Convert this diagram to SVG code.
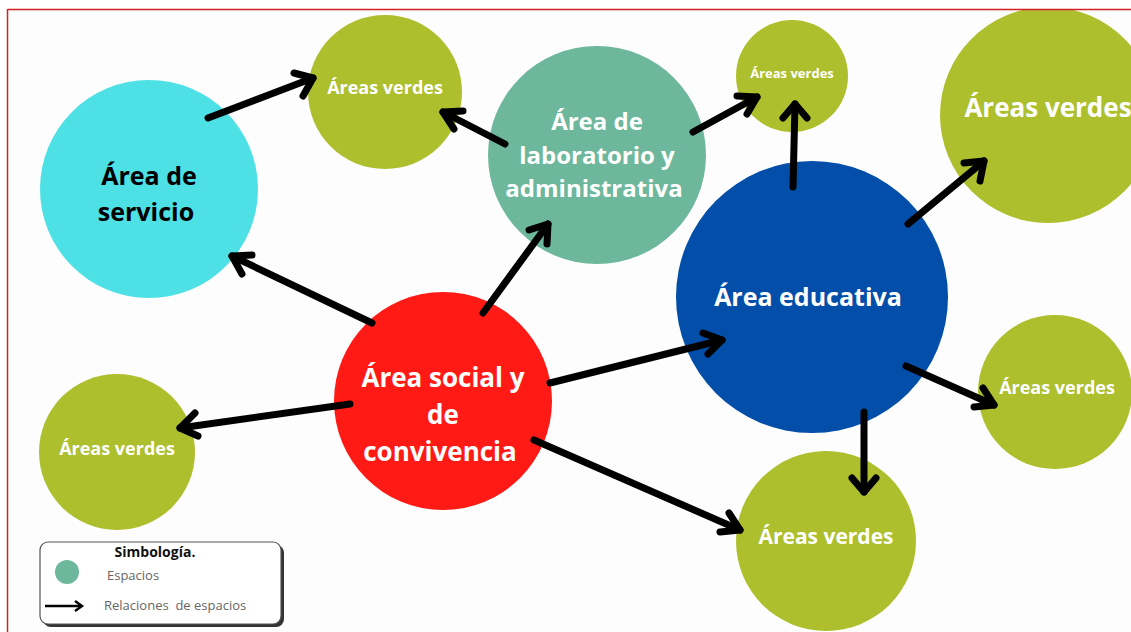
<svg xmlns="http://www.w3.org/2000/svg" width="1131" height="632" viewBox="0 0 1131 632">
<defs>
<style>
.g{fill:#adbf2c}
.t{font-family:"Open Sans","Liberation Sans",sans-serif;font-weight:bold;text-anchor:middle;fill:#fff}
.c line{stroke:#000;stroke-width:7;stroke-linecap:round}
.c polyline{fill:none;stroke:#000;stroke-width:7;stroke-linecap:round;stroke-linejoin:round}
.lg{font-family:"Open Sans","Liberation Sans",sans-serif;font-size:13px;fill:#666}
</style>
<clipPath id="cp"><rect x="8" y="10" width="1123" height="622"/></clipPath>
</defs>
<rect width="1131" height="632" fill="#fff"/>
<rect x="8" y="10" width="1123" height="622" fill="#fdfdfd"/>
<g clip-path="url(#cp)">
<g id="n-servicio"><circle cx="149" cy="189" r="109" fill="#4de1e5"/><text class="t" style="fill:#000" font-size="25"><tspan x="149" y="185">Área de</tspan><tspan x="146" y="221">servicio</tspan></text></g>
<g id="n-verdes1"><circle class="g" cx="385" cy="92" r="77"/><text class="t" x="385" y="94" font-size="18">Áreas verdes</text></g>
<g id="n-lab"><circle cx="597" cy="155" r="109" fill="#6db79c"/><text class="t" font-size="24"><tspan x="597" y="130">Área de</tspan><tspan x="597" y="164">laboratorio y</tspan><tspan x="594" y="197">administrativa</tspan></text></g>
<g id="n-verdes2"><circle class="g" cx="792" cy="76" r="56"/><text class="t" x="792" y="78" font-size="13">Áreas verdes</text></g>
<g id="n-verdes3"><circle class="g" cx="1048" cy="115" r="108"/><text class="t" x="1048" y="117" font-size="26">Áreas verdes</text></g>
<g id="n-educativa"><circle cx="812" cy="297" r="136" fill="#034ea8"/><text class="t" x="808" y="306" font-size="25">Área educativa</text></g>
<g id="n-verdes4"><circle class="g" cx="1055" cy="392" r="77"/><text class="t" x="1057" y="394" font-size="18">Áreas verdes</text></g>
<g id="n-social"><circle cx="443" cy="401" r="109" fill="#ff1a16"/><text class="t" font-size="26"><tspan x="443" y="387">Área social y</tspan><tspan x="443" y="424">de</tspan><tspan x="440" y="461">convivencia</tspan></text></g>
<g id="n-verdes5"><circle class="g" cx="117" cy="452" r="78"/><text class="t" x="117" y="455" font-size="18">Áreas verdes</text></g>
<g id="n-verdes6"><circle class="g" cx="826" cy="541" r="90"/><text class="t" x="826" y="544" font-size="21">Áreas verdes</text></g>
</g>
<g id="connectors" class="c">
<line x1="208" y1="118" x2="313" y2="78"/><polyline points="294,73 313,78 303,96"/>
<line x1="505" y1="144" x2="443" y2="112"/><polyline points="454,129 443,112 463,111"/>
<line x1="693" y1="132" x2="757" y2="97"/><polyline points="737,96 757,97 747,114"/>
<line x1="793" y1="187" x2="795" y2="104"/><polyline points="783,118 795,104 807,118"/>
<line x1="908" y1="224" x2="984" y2="161"/><polyline points="964,163 984,161 980,181"/>
<line x1="906" y1="366" x2="994" y2="405"/><polyline points="983,388 994,405 974,407"/>
<line x1="864" y1="412" x2="864" y2="492"/><polyline points="852,478 864,492 876,478"/>
<line x1="372" y1="323" x2="232" y2="256"/><polyline points="242,274 232,256 252,255"/>
<line x1="483" y1="313" x2="548" y2="224"/><polyline points="529,230 548,224 547,244"/>
<line x1="550" y1="383" x2="722" y2="340"/><polyline points="703,333 722,340 708,354"/>
<line x1="350" y1="404" x2="180" y2="428"/><polyline points="195,413 180,428 198,436"/>
<line x1="534" y1="440" x2="740" y2="530"/><polyline points="729,513 740,530 720,532"/>
</g>
<g id="legend">
<rect x="43" y="545" width="241" height="82" rx="8" fill="#333"/>
<rect x="40" y="542" width="241" height="82" rx="8" fill="#fff" stroke="#555" stroke-width="1.2"/>
<text x="155" y="557" font-family="'Open Sans','Liberation Sans',sans-serif" font-weight="bold" font-size="14" text-anchor="middle" fill="#111">Simbología.</text>
<circle cx="67" cy="572" r="12" fill="#6db79c"/>
<text class="lg" x="107" y="580">Espacios</text>
<line x1="45" y1="606" x2="80" y2="606" stroke="#000" stroke-width="2.5"/>
<polyline points="75,601 82,606 75,611" fill="none" stroke="#000" stroke-width="2.5"/>
<text class="lg" x="104" y="610">Relaciones&#160; de espacios</text>
</g>
<line x1="8" y1="9.5" x2="1131" y2="9.5" stroke="#d42020" stroke-width="1.5"/>
<line x1="7.5" y1="9" x2="7.5" y2="632" stroke="#d42020" stroke-width="1.5"/>
</svg>
